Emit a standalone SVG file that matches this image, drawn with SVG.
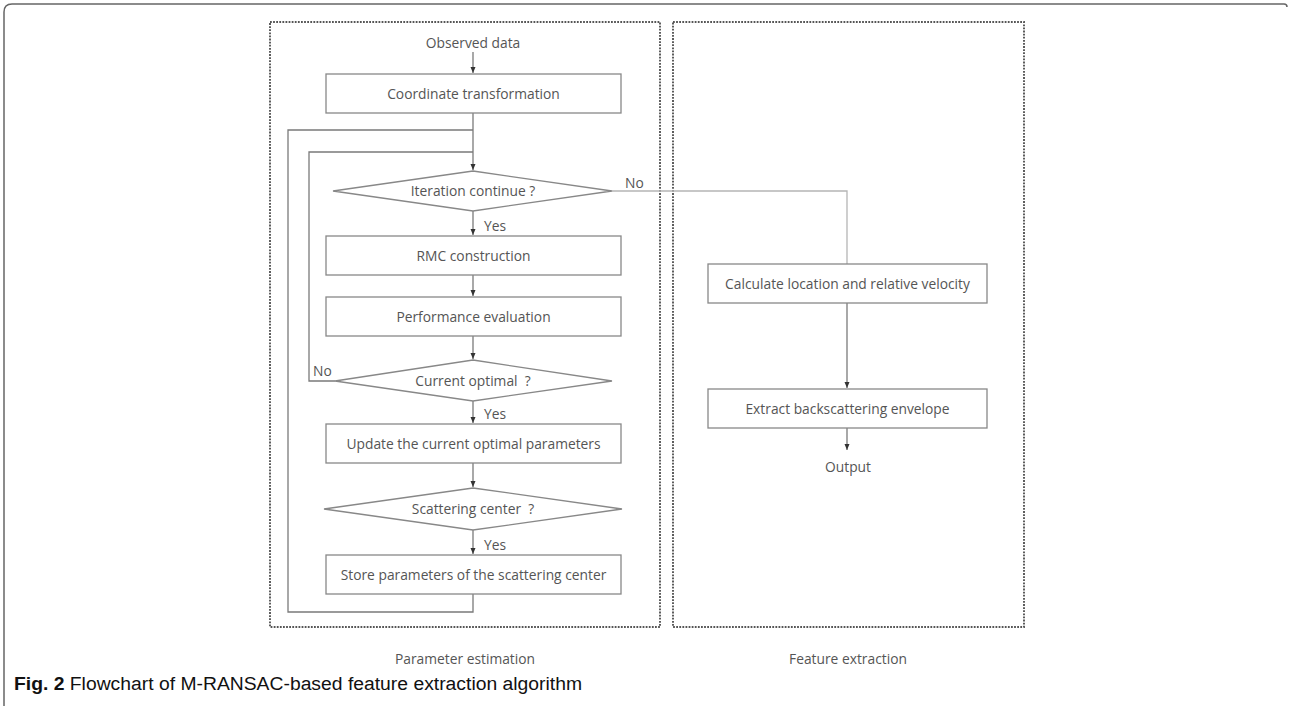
<svg xmlns="http://www.w3.org/2000/svg" width="1289" height="708" viewBox="0 0 1289 708">
<style>
.t{font-family:"Open Sans","Noto Sans",sans-serif;font-size:13.8px;fill:#555;text-anchor:middle}
.l{font-family:"Open Sans","Noto Sans",sans-serif;font-size:13.8px;fill:#555}
.box{fill:#fff;stroke:#888;stroke-width:1.3}
.ln{fill:none;stroke:#7a7a7a;stroke-width:1.3}
.lt{fill:none;stroke:#b5b5b5;stroke-width:1.3}
.dash{fill:none;stroke:#555;stroke-width:1.9;stroke-dasharray:1.8 1.3}
.cap{font-family:"Liberation Sans",Arial,sans-serif;font-size:18px;fill:#111}
</style>
<defs>
<marker id="ah" viewBox="0 0 6 6" refX="6" refY="3" markerWidth="6" markerHeight="6" markerUnits="userSpaceOnUse" orient="auto">
<path d="M0,0.5 L6,3 L0,5.5 Z" fill="#333"/>
</marker>
</defs>
<rect width="1289" height="708" fill="#fff"/>
<path d="M4 706 V12 Q4 4 12 4 H1284 Q1287 4 1287 7" fill="none" stroke="#666" stroke-width="1.5"/>
<g id="panel-left">
<rect class="dash" x="270" y="22" width="390" height="605"/>
<text class="t" x="465" y="664">Parameter estimation</text>
</g>
<g id="panel-right">
<rect class="dash" x="673" y="22" width="351" height="605"/>
<text class="t" x="848" y="664">Feature extraction</text>
</g>
<g id="connectors">
<line class="ln" x1="473" y1="52" x2="473" y2="73" marker-end="url(#ah)"/>
<line class="ln" x1="473" y1="113" x2="473" y2="170" marker-end="url(#ah)"/>
<path class="ln" d="M473 594 V612 H288 V130 H473"/>
<path class="ln" d="M335 381 H309 V152 H473"/>
<path class="lt" d="M612 191 H847 V264"/>
<line class="ln" x1="473" y1="211" x2="473" y2="235" marker-end="url(#ah)"/>
<line class="ln" x1="473" y1="275" x2="473" y2="296" marker-end="url(#ah)"/>
<line class="ln" x1="473" y1="336" x2="473" y2="359" marker-end="url(#ah)"/>
<line class="ln" x1="473" y1="401" x2="473" y2="423" marker-end="url(#ah)"/>
<line class="ln" x1="473" y1="463" x2="473" y2="487" marker-end="url(#ah)"/>
<line class="ln" x1="473" y1="530" x2="473" y2="554" marker-end="url(#ah)"/>
<line class="ln" x1="847" y1="303" x2="847" y2="388" marker-end="url(#ah)"/>
<line class="ln" x1="847" y1="428" x2="847" y2="450" marker-end="url(#ah)"/>
<text class="l" x="625" y="188">No</text>
<text class="l" x="484" y="231">Yes</text>
<text class="l" x="313" y="376">No</text>
<text class="l" x="484" y="419">Yes</text>
<text class="l" x="484" y="550">Yes</text>
</g>
<g id="observed"><text class="t" x="473" y="48">Observed data</text></g>
<g id="coord"><rect class="box" x="326" y="74" width="295" height="39"/><text class="t" x="473.5" y="98.5">Coordinate transformation</text></g>
<g id="iter"><polygon class="box" points="473,171 612,191 473,211 333,191"/><text class="t" x="473" y="196">Iteration continue ?</text></g>
<g id="rmc"><rect class="box" x="326" y="236" width="295" height="39"/><text class="t" x="473.5" y="260.5">RMC construction</text></g>
<g id="perf"><rect class="box" x="326" y="297" width="295" height="39"/><text class="t" x="473.5" y="321.5">Performance evaluation</text></g>
<g id="curopt"><polygon class="box" points="473,360 612,381 473,401 335,381"/><text class="t" x="473" y="386" xml:space="preserve">Current optimal  ?</text></g>
<g id="update"><rect class="box" x="326" y="424" width="295" height="39"/><text class="t" x="473.5" y="448.5">Update the current optimal parameters</text></g>
<g id="scat"><polygon class="box" points="473,488 622,509 473,530 324,509"/><text class="t" x="473" y="514" xml:space="preserve">Scattering center  ?</text></g>
<g id="store"><rect class="box" x="326" y="555" width="295" height="39"/><text class="t" x="473.5" y="579.5">Store parameters of the scattering center</text></g>
<g id="calc"><rect class="box" x="708" y="264" width="279" height="39"/><text class="t" x="847.5" y="288.5">Calculate location and relative velocity</text></g>
<g id="extract"><rect class="box" x="708" y="389" width="279" height="39"/><text class="t" x="847.5" y="413.5">Extract backscattering envelope</text></g>
<g id="output"><text class="t" x="848" y="472">Output</text></g>
<g id="caption"><text class="cap" x="14" y="690" textLength="568" lengthAdjust="spacingAndGlyphs"><tspan font-weight="bold">Fig. 2</tspan> Flowchart of M-RANSAC-based feature extraction algorithm</text></g>
</svg>
